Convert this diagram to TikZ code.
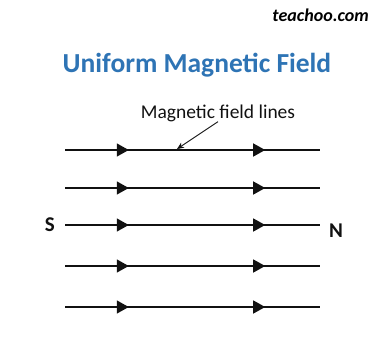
\documentclass[tikz,border=0pt]{standalone}
\usepackage{fontspec}
\setmainfont{Carlito}
\usepackage{xcolor}
\usetikzlibrary{arrows.meta,positioning,decorations.markings}
\definecolor{titleblue}{HTML}{2E74B5}
\definecolor{ink}{HTML}{111111}
\tikzset{
  fieldline/.style={draw=ink, line width=1.4pt,
    postaction={decorate},
    decoration={markings,
      mark=at position 0.25 with {\arrow{Triangle[length=12pt,width=13pt]}},
      mark=at position 0.785 with {\arrow{Triangle[length=12pt,width=13pt]}}}},
  pole/.style={font=\fontsize{21}{25}\selectfont\bfseries, text=ink, inner sep=0pt},
  lbl/.style={font=\fontsize{19.5}{23}\selectfont, text=ink, inner sep=0pt},
  ptr/.style={-{Stealth[length=7pt,width=6pt]}, draw=ink, line width=0.9pt}
}

\begin{document}
\begin{tikzpicture}[x=1pt,y=-1pt]
  \useasboundingbox[fill=white] (0,0) rectangle (371,343);
  % header
  \node[anchor=east, font=\fontsize{18}{21}\selectfont\bfseries\itshape, inner sep=0pt] (brand) at (369,15) {teachoo.com};
  \node[font=\fontsize{27.5}{33}\selectfont\bfseries, text=titleblue, inner sep=0pt] (title) at (197,65) {Uniform Magnetic Field};

  % field lines
  \foreach \y [count=\i] in {150,188,225,266,307} {
    \coordinate (l\i) at (65,\y);
    \coordinate (r\i) at (320,\y);
    \draw[fieldline] (l\i) -- (r\i);
  }

  % poles
  \node[pole, left=10pt of l3] (south) {S};
  \node[pole, right=9pt of r3, yshift=-6pt] (north) {N};

  % label with pointer
  \node[lbl] (flabel) at (218,113) {Magnetic field lines};
  \coordinate (hit) at (177,149);
  \draw[ptr] (flabel.south) -- (hit);
\end{tikzpicture}
\end{document}
